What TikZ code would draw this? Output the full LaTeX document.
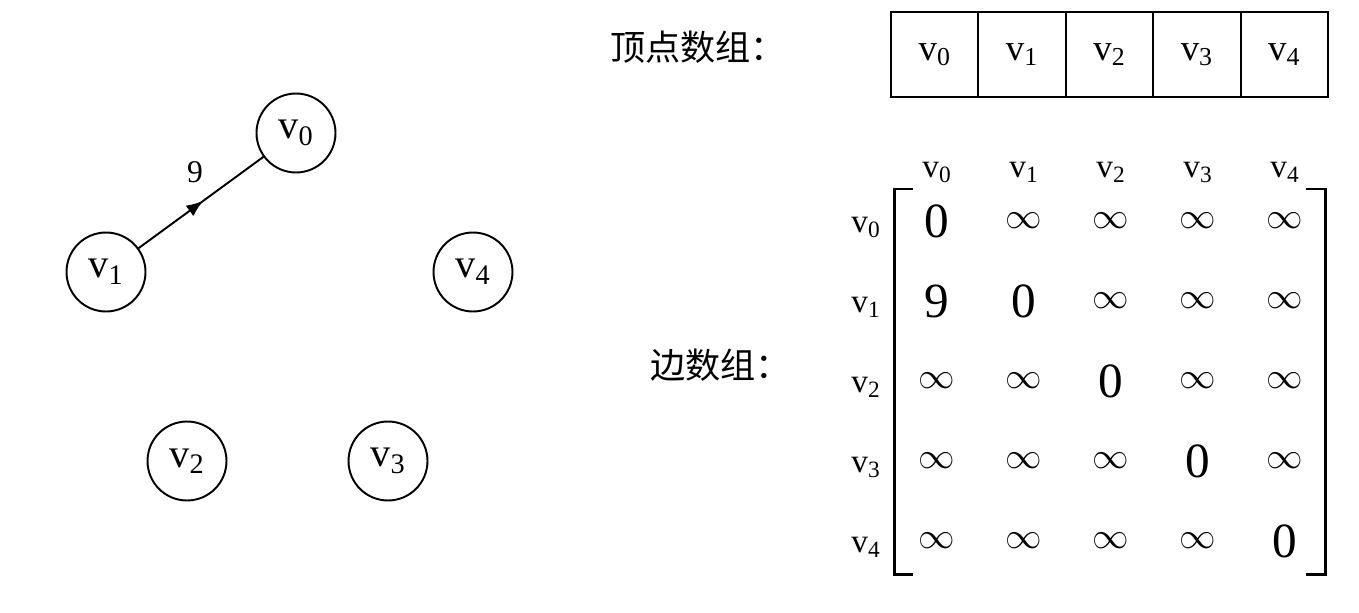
\documentclass[tikz,border=0pt]{standalone}
\usepackage{fontspec}
\setmainfont{Liberation Serif}
\newfontfamily\cjk{Noto Sans CJK SC}
\usepackage{tikz}
\usetikzlibrary{positioning,arrows.meta,decorations.markings}

\newcommand{\vname}[1]{v\textsubscript{#1}}
\newcommand{\mval}[1]{\if I#1{\fontsize{22}{24}\selectfont$\infty$}\else{\fontsize{28}{30}\selectfont #1}\fi}

\begin{document}
\begin{tikzpicture}[x=0.02cm, y=-0.02cm,
  vert/.style={circle, draw, line width=1.1pt, minimum size=1.58cm, inner sep=0pt, font=\fontsize{23}{25}\selectfont},
  cell/.style={draw, line width=1.1pt, minimum width=1.748cm, minimum height=1.7cm, inner sep=0pt, font=\fontsize{21}{24}\selectfont},
  hd/.style={inner sep=0pt, font=\fontsize{19}{22}\selectfont},
  ent/.style={inner sep=0pt},
  ttl/.style={anchor=west, inner sep=0pt, font=\cjk\fontsize{20}{24}\selectfont},
  lab/.style={inner sep=0pt, font=\fontsize{18}{20}\selectfont},
  brk/.style={line width=1.7pt},
  arr/.style={line width=1.1pt, postaction={decorate},
    decoration={markings, mark=at position 0.52 with {\arrow{Latex[length=3.4mm,width=2.6mm]}}}}]
\useasboundingbox (0,0) rectangle (1359,612);
% graph
\node[vert] (v0) at (296,133) {\vname{0}};
\node[vert] (v1) at (106,272) {\vname{1}};
\node[vert] (v4) at (473,272) {\vname{4}};
\node[vert] (v2) at (187,461) {\vname{2}};
\node[vert] (v3) at (388,461) {\vname{3}};
\draw[arr] (v1) -- (v0);
\node[lab] (w10) at (195,172) {9};
% vertex array
\node[ttl] (tv) at (610,47) {顶点数组：};
\foreach \i in {0,...,4}
  \node[cell] (a\i) at ({934.7+87.4*\i},54.5) {\vname{\i}};
% edge array
\node[ttl] (te) at (650,365) {边数组：};
\foreach \i in {0,...,4}{
  \node[hd] (c\i) at ({937+87*\i},172) {\vname{\i}};
  \node[hd] (r\i) at (866,{227+80*\i}) {\vname{\i}};
}
\foreach \row [count=\i from 0] in {{0,I,I,I,I},{9,0,I,I,I},{I,I,0,I,I},{I,I,I,0,I},{I,I,I,I,0}}
  \foreach \e [count=\j from 0] in \row
    \node[ent] (m\i\j) at ({937+87*\j},{221+80*\i}) {\mval{\e}};
\draw[brk] (913,189) -- (894,189) -- (894,574) -- (913,574);
\draw[brk] (1306,189) -- (1325,189) -- (1325,574) -- (1306,574);
\end{tikzpicture}
\end{document}
